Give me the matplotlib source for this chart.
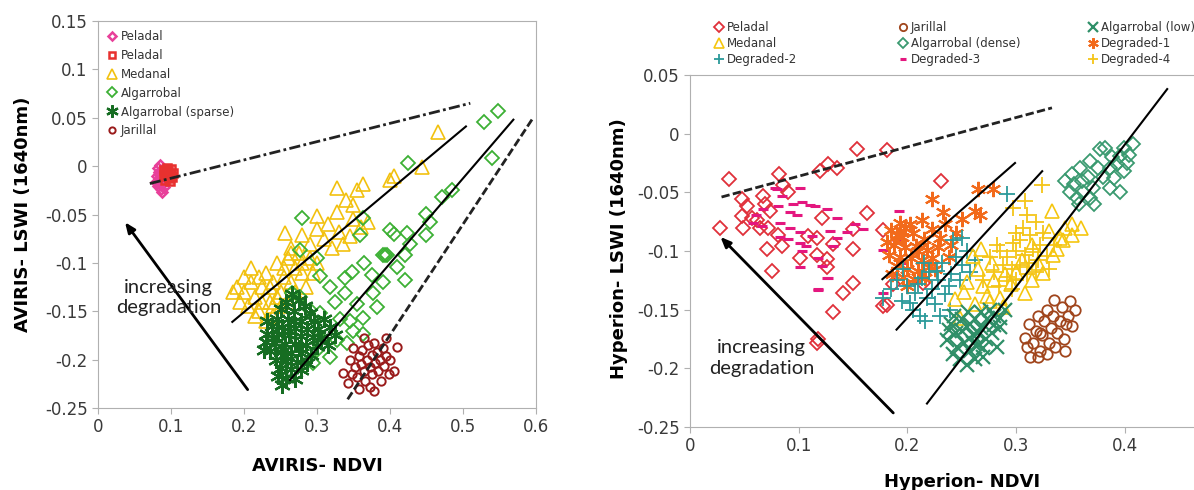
import matplotlib
matplotlib.use('Agg')
import matplotlib.pyplot as plt
import numpy as np
from matplotlib.ticker import FuncFormatter

# ---- AVIRIS panel data (NDVI, LSWI) ----
av_peladal_a = np.array([
    (0.082, -0.002), (0.084, -0.006), (0.081, -0.010), (0.083, -0.014), (0.085, -0.018),
    (0.082, -0.021), (0.086, -0.024), (0.088, -0.027), (0.084, -0.008), (0.087, -0.012),
    (0.089, -0.016), (0.086, -0.020), (0.090, -0.022), (0.085, 0.001), (0.080, -0.016),
    (0.088, -0.004)])
av_peladal_b = np.array([
    (0.090, -0.004), (0.093, -0.006), (0.096, -0.005), (0.099, -0.008), (0.094, -0.010),
    (0.097, -0.012), (0.101, -0.011), (0.092, -0.014), (0.095, -0.002), (0.100, -0.003),
    (0.098, -0.015), (0.091, -0.009), (0.103, -0.007)])
av_medanal = np.array([
    (0.466, 0.035), (0.444, -0.001), (0.400, -0.014), (0.405, -0.010), (0.363, -0.018),
    (0.327, -0.023), (0.355, -0.025), (0.340, -0.035), (0.350, -0.040), (0.300, -0.052),
    (0.327, -0.047), (0.256, -0.069), (0.280, -0.071), (0.300, -0.065), (0.315, -0.060),
    (0.330, -0.068), (0.345, -0.072), (0.360, -0.063), (0.370, -0.058), (0.310, -0.075),
    (0.290, -0.080), (0.335, -0.080), (0.320, -0.085), (0.265, -0.085), (0.350, -0.055),
    (0.190, -0.125), (0.200, -0.130), (0.210, -0.120), (0.195, -0.140), (0.205, -0.145),
    (0.215, -0.135), (0.220, -0.150), (0.225, -0.125), (0.230, -0.110), (0.235, -0.140),
    (0.240, -0.120), (0.245, -0.100), (0.250, -0.130), (0.255, -0.115), (0.260, -0.095),
    (0.265, -0.120), (0.270, -0.105), (0.275, -0.090), (0.280, -0.110), (0.285, -0.125),
    (0.290, -0.095), (0.295, -0.110), (0.300, -0.100), (0.240, -0.155), (0.230, -0.160),
    (0.250, -0.145), (0.260, -0.140), (0.210, -0.105), (0.220, -0.115), (0.185, -0.130),
    (0.200, -0.115), (0.245, -0.135), (0.255, -0.105), (0.270, -0.130), (0.265, -0.090),
    (0.280, -0.100), (0.235, -0.125), (0.225, -0.140), (0.215, -0.155), (0.240, -0.145)])
av_algarrobal = np.array([
    (0.548, 0.057), (0.529, 0.046), (0.540, 0.008), (0.485, -0.025), (0.471, -0.032),
    (0.450, -0.049), (0.455, -0.058), (0.450, -0.071), (0.423, -0.069), (0.427, -0.080),
    (0.400, -0.066), (0.420, -0.092), (0.420, -0.118), (0.393, -0.092), (0.410, -0.104),
    (0.424, 0.003), (0.280, -0.054), (0.363, -0.054), (0.359, -0.071), (0.405, -0.070),
    (0.277, -0.087), (0.390, -0.092), (0.300, -0.095), (0.304, -0.114), (0.338, -0.116),
    (0.348, -0.109), (0.375, -0.113), (0.390, -0.120), (0.396, -0.092), (0.338, -0.131),
    (0.355, -0.142), (0.377, -0.131), (0.382, -0.146), (0.363, -0.157), (0.350, -0.170),
    (0.341, -0.183), (0.318, -0.197), (0.300, -0.190), (0.295, -0.204), (0.304, -0.152),
    (0.290, -0.149), (0.313, -0.170), (0.327, -0.180), (0.363, -0.173), (0.304, -0.178),
    (0.266, -0.131), (0.277, -0.135), (0.325, -0.140), (0.332, -0.158), (0.345, -0.160),
    (0.318, -0.125), (0.365, -0.100)])
av_sparse = np.array([
    (0.266, -0.132), (0.275, -0.138), (0.258, -0.140), (0.283, -0.145), (0.250, -0.148),
    (0.268, -0.150), (0.290, -0.152), (0.245, -0.158), (0.260, -0.158), (0.278, -0.160),
    (0.296, -0.160), (0.238, -0.165), (0.252, -0.166), (0.270, -0.167), (0.286, -0.168),
    (0.302, -0.168), (0.232, -0.174), (0.246, -0.174), (0.262, -0.175), (0.278, -0.176),
    (0.294, -0.177), (0.230, -0.182), (0.242, -0.183), (0.256, -0.184), (0.270, -0.184),
    (0.285, -0.185), (0.300, -0.186), (0.236, -0.191), (0.250, -0.192), (0.264, -0.193),
    (0.278, -0.193), (0.292, -0.195), (0.244, -0.200), (0.258, -0.201), (0.272, -0.202),
    (0.286, -0.203), (0.250, -0.209), (0.264, -0.210), (0.278, -0.211), (0.246, -0.217),
    (0.258, -0.219), (0.270, -0.220), (0.252, -0.226), (0.263, -0.170), (0.255, -0.195),
    (0.275, -0.188), (0.240, -0.178), (0.268, -0.160), (0.310, -0.158), (0.318, -0.166),
    (0.325, -0.175), (0.315, -0.185), (0.305, -0.178), (0.232, -0.160), (0.228, -0.190)])
av_jarillal = np.array([
    (0.336, -0.214), (0.345, -0.200), (0.350, -0.188), (0.352, -0.208), (0.355, -0.218),
    (0.358, -0.196), (0.360, -0.205), (0.362, -0.190), (0.364, -0.212), (0.366, -0.222),
    (0.368, -0.200), (0.370, -0.185), (0.372, -0.208), (0.373, -0.228), (0.375, -0.195),
    (0.376, -0.215), (0.378, -0.183), (0.380, -0.203), (0.382, -0.192), (0.384, -0.212),
    (0.386, -0.200), (0.388, -0.222), (0.390, -0.188), (0.392, -0.207), (0.395, -0.196),
    (0.398, -0.215), (0.400, -0.200), (0.409, -0.187), (0.342, -0.224), (0.358, -0.230),
    (0.378, -0.232), (0.394, -0.178), (0.405, -0.212), (0.365, -0.178), (0.348, -0.215)])

# trend lines and arrow: ((x0, x1), (y0, y1))
av_line_dashdot = ((0.071, 0.510), (-0.018, 0.065))
av_line_1 = ((0.184, 0.504), (-0.161, 0.041))
av_line_2 = ((0.263, 0.569), (-0.221, 0.048))
av_line_dashed = ((0.342, 0.597), (-0.241, 0.051))
av_arrow = ((0.205, -0.231), (0.037, -0.058))

# ---- Hyperion panel data (NDVI, LSWI) ----
hy_peladal = np.array([
    (0.036, -0.039), (0.082, -0.034), (0.048, -0.056), (0.052, -0.062), (0.067, -0.053),
    (0.069, -0.060), (0.074, -0.066), (0.086, -0.044), (0.090, -0.050), (0.120, -0.032),
    (0.127, -0.026), (0.135, -0.029), (0.048, -0.070), (0.057, -0.072), (0.062, -0.074),
    (0.064, -0.080), (0.049, -0.080), (0.072, -0.080), (0.028, -0.080), (0.081, -0.086),
    (0.085, -0.096), (0.071, -0.098), (0.075, -0.117), (0.101, -0.106), (0.117, -0.103),
    (0.109, -0.087), (0.117, -0.089), (0.121, -0.072), (0.126, -0.107), (0.132, -0.094),
    (0.126, -0.114), (0.150, -0.081), (0.150, -0.098), (0.150, -0.127), (0.141, -0.136),
    (0.132, -0.152), (0.163, -0.068), (0.178, -0.082), (0.187, -0.128), (0.181, -0.146),
    (0.117, -0.178), (0.181, -0.014), (0.154, -0.013), (0.231, -0.040), (0.214, -0.127),
    (0.178, -0.147), (0.118, -0.175)])
hy_degraded3 = np.array([
    (0.080, -0.047), (0.101, -0.046), (0.081, -0.062), (0.095, -0.060), (0.103, -0.058),
    (0.110, -0.061), (0.115, -0.062), (0.092, -0.067), (0.098, -0.069), (0.126, -0.064),
    (0.135, -0.072), (0.144, -0.084), (0.152, -0.077), (0.159, -0.081), (0.083, -0.076),
    (0.092, -0.080), (0.101, -0.084), (0.083, -0.088), (0.090, -0.090), (0.101, -0.093),
    (0.107, -0.096), (0.112, -0.087), (0.129, -0.083), (0.135, -0.089), (0.103, -0.100),
    (0.101, -0.114), (0.118, -0.106), (0.121, -0.113), (0.126, -0.123), (0.118, -0.133),
    (0.132, -0.096), (0.178, -0.099), (0.178, -0.136), (0.192, -0.066), (0.190, -0.091),
    (0.061, -0.069), (0.058, -0.076), (0.066, -0.079), (0.078, -0.046), (0.085, -0.053),
    (0.067, -0.064), (0.127, -0.123), (0.118, -0.132), (0.195, -0.110), (0.188, -0.120)])
hy_degraded1 = np.array([
    (0.223, -0.056), (0.265, -0.047), (0.279, -0.047), (0.233, -0.067), (0.262, -0.066),
    (0.267, -0.069), (0.250, -0.073), (0.193, -0.076), (0.202, -0.077), (0.213, -0.074),
    (0.223, -0.081), (0.235, -0.077), (0.190, -0.086), (0.230, -0.089), (0.185, -0.082),
    (0.195, -0.088), (0.205, -0.085), (0.215, -0.090), (0.188, -0.095), (0.198, -0.097),
    (0.208, -0.096), (0.218, -0.099), (0.228, -0.097), (0.183, -0.103), (0.193, -0.105),
    (0.203, -0.106), (0.213, -0.108), (0.223, -0.106), (0.190, -0.113), (0.200, -0.115),
    (0.210, -0.117), (0.220, -0.114), (0.196, -0.122), (0.206, -0.124), (0.186, -0.120),
    (0.216, -0.123), (0.200, -0.130), (0.240, -0.095), (0.245, -0.085), (0.181, -0.092),
    (0.225, -0.115), (0.238, -0.105), (0.210, -0.100), (0.198, -0.080)])
hy_degraded2 = np.array([
    (0.195, -0.143), (0.216, -0.160), (0.239, -0.150), (0.213, -0.123), (0.227, -0.117),
    (0.235, -0.137), (0.223, -0.132), (0.207, -0.136), (0.202, -0.144), (0.292, -0.051),
    (0.250, -0.089), (0.242, -0.091), (0.185, -0.132), (0.190, -0.125), (0.200, -0.130),
    (0.210, -0.128), (0.218, -0.140), (0.228, -0.125), (0.232, -0.110), (0.240, -0.120),
    (0.245, -0.105), (0.250, -0.112), (0.255, -0.100), (0.220, -0.118), (0.205, -0.150),
    (0.212, -0.155), (0.225, -0.145), (0.238, -0.130), (0.248, -0.125), (0.258, -0.118),
    (0.178, -0.140), (0.196, -0.115), (0.230, -0.155), (0.215, -0.110), (0.262, -0.108)])
hy_degraded4 = np.array([
    (0.324, -0.044), (0.308, -0.057), (0.310, -0.069), (0.297, -0.063), (0.306, -0.080),
    (0.313, -0.086), (0.304, -0.091), (0.297, -0.093), (0.285, -0.100), (0.292, -0.105),
    (0.300, -0.100), (0.308, -0.103), (0.316, -0.098), (0.322, -0.095), (0.288, -0.112),
    (0.296, -0.115), (0.304, -0.112), (0.312, -0.110), (0.320, -0.108), (0.328, -0.104),
    (0.292, -0.122), (0.300, -0.125), (0.310, -0.120), (0.318, -0.118), (0.280, -0.118),
    (0.276, -0.105), (0.284, -0.130), (0.296, -0.132), (0.325, -0.085), (0.318, -0.075),
    (0.330, -0.115), (0.270, -0.125), (0.282, -0.095), (0.300, -0.085), (0.335, -0.095)])
hy_medanal = np.array([
    (0.248, -0.157), (0.244, -0.141), (0.273, -0.138), (0.276, -0.143), (0.308, -0.136),
    (0.325, -0.119), (0.334, -0.103), (0.343, -0.091), (0.260, -0.104), (0.255, -0.126),
    (0.333, -0.066), (0.351, -0.077), (0.351, -0.086), (0.340, -0.089), (0.330, -0.083),
    (0.265, -0.115), (0.270, -0.130), (0.280, -0.125), (0.285, -0.140), (0.290, -0.120),
    (0.295, -0.128), (0.300, -0.118), (0.315, -0.125), (0.320, -0.110), (0.338, -0.098),
    (0.345, -0.080), (0.262, -0.145), (0.252, -0.135), (0.360, -0.080), (0.315, -0.095),
    (0.305, -0.108), (0.278, -0.110), (0.268, -0.098), (0.288, -0.148)])
hy_algarrobal_low = np.array([
    (0.240, -0.162), (0.245, -0.170), (0.250, -0.158), (0.252, -0.178), (0.255, -0.165),
    (0.258, -0.185), (0.260, -0.172), (0.262, -0.158), (0.265, -0.180), (0.268, -0.166),
    (0.270, -0.190), (0.272, -0.175), (0.275, -0.160), (0.278, -0.170), (0.280, -0.155),
    (0.282, -0.182), (0.285, -0.157), (0.276, -0.150), (0.242, -0.188), (0.248, -0.192),
    (0.255, -0.197), (0.236, -0.176), (0.246, -0.182), (0.262, -0.192), (0.268, -0.152),
    (0.256, -0.152), (0.285, -0.165), (0.290, -0.150), (0.250, -0.168), (0.260, -0.178),
    (0.270, -0.183), (0.280, -0.163), (0.265, -0.170), (0.238, -0.167), (0.243, -0.155),
    (0.273, -0.158), (0.258, -0.162)])
hy_algarrobal_dense = np.array([
    (0.382, -0.012), (0.408, -0.009), (0.402, -0.025), (0.396, -0.019), (0.388, -0.020),
    (0.368, -0.023), (0.359, -0.029), (0.351, -0.034), (0.353, -0.043), (0.350, -0.050),
    (0.362, -0.050), (0.371, -0.046), (0.380, -0.037), (0.386, -0.046), (0.396, -0.050),
    (0.375, -0.029), (0.386, -0.029), (0.399, -0.032), (0.366, -0.037), (0.361, -0.040),
    (0.356, -0.055), (0.368, -0.055), (0.377, -0.013), (0.399, -0.012), (0.393, -0.026),
    (0.345, -0.040), (0.358, -0.060), (0.372, -0.060), (0.390, -0.038), (0.404, -0.018)])
hy_jarillal = np.array([
    (0.308, -0.174), (0.351, -0.164), (0.350, -0.143), (0.313, -0.190), (0.312, -0.162),
    (0.316, -0.178), (0.318, -0.168), (0.320, -0.155), (0.322, -0.185), (0.324, -0.172),
    (0.326, -0.160), (0.328, -0.150), (0.330, -0.178), (0.332, -0.166), (0.334, -0.155),
    (0.336, -0.182), (0.338, -0.170), (0.340, -0.160), (0.342, -0.148), (0.344, -0.175),
    (0.346, -0.162), (0.348, -0.155), (0.320, -0.190), (0.328, -0.188), (0.354, -0.150),
    (0.310, -0.182), (0.335, -0.142), (0.345, -0.185), (0.322, -0.170)])

hy_line_dashed = ((0.029, 0.333), (-0.054, 0.022))
hy_line_1 = ((0.177, 0.299), (-0.124, -0.025))
hy_line_2 = ((0.190, 0.324), (-0.167, -0.032))
hy_line_3 = ((0.218, 0.439), (-0.230, 0.038))
hy_arrow = ((0.187, -0.238), (0.028, -0.088))

STAR = (6, 2, 0)  # six-armed asterisk


def scatter(ax, pts, marker, color, ms, mew=1.3, label=None):
    return ax.plot(pts[:, 0], pts[:, 1], ls='none', marker=marker, ms=ms,
                   mfc='none', mec=color, mew=mew, label=label)[0]


def fmt(v, pos):
    v = round(v, 2)
    return '0' if v == 0 else f'{v:g}'


def style_axes(ax):
    for s in ax.spines.values():
        s.set_color('#b0b0b0')
    ax.tick_params(colors='#b0b0b0', labelcolor='#3a3a3a', labelsize=12,
                   length=4, width=0.8)
    ax.xaxis.set_major_formatter(FuncFormatter(fmt))
    ax.yaxis.set_major_formatter(FuncFormatter(fmt))


def arrow_text(ax, arrow, xy_text):
    ax.annotate('', xy=arrow[1], xytext=arrow[0],
                arrowprops=dict(arrowstyle='-|>,head_length=0.6,head_width=0.25',
                                lw=2, color='black', shrinkA=0, shrinkB=0))
    ax.text(*xy_text, 'increasing\ndegradation', ha='center', va='center',
            fontsize=14.5, family='Lato', color='#222222', linespacing=1.25)


fig = plt.figure(figsize=(11.94, 4.9), dpi=100)

# AVIRIS
ax1 = fig.add_axes([98 / 1194, 82 / 490, 438 / 1194, 387 / 490])
ax1.set_xlim(0, 0.6)
ax1.set_ylim(-0.25, 0.15)
ax1.set_xticks(np.arange(0, 0.61, 0.1))
ax1.set_yticks(np.arange(-0.25, 0.151, 0.05))
style_axes(ax1)

h = []
h.append(scatter(ax1, av_peladal_a, 'D', '#e8409a', 5.5, 1.8, 'Peladal'))
h.append(scatter(ax1, av_peladal_b, 's', '#e8312f', 5.5, 1.8, 'Peladal'))
h.append(scatter(ax1, av_medanal, '^', '#f2c10f', 10, 1.2, 'Medanal'))
h.append(scatter(ax1, av_algarrobal, 'D', '#3cb034', 7, 1.3, 'Algarrobal'))
h.append(scatter(ax1, av_sparse, STAR, '#166d22', 12, 1.6, 'Algarrobal (sparse)'))
h.append(scatter(ax1, av_jarillal, 'o', '#9a1b1b', 6, 1.4, 'Jarillal'))

ax1.plot(*av_line_dashdot, color='#222222', lw=2, ls=(0, (4, 1.2, 1, 1.2)))
ax1.plot(*av_line_1, color='black', lw=1.5)
ax1.plot(*av_line_2, color='black', lw=1.5)
ax1.plot(*av_line_dashed, color='#222222', lw=2, ls=(0, (3, 1.2)))
arrow_text(ax1, av_arrow, (0.097, -0.136))

ax1.legend(handles=h, loc='upper left', bbox_to_anchor=(0.022, 0.977),
           frameon=False, fontsize=8.5, markerscale=0.75, handlelength=0.8,
           handletextpad=0.3, labelspacing=0.5, borderpad=0, borderaxespad=0,
           labelcolor='#333333')

ax1.set_xlabel('AVIRIS- NDVI', fontsize=13, fontweight='bold')
ax1.set_ylabel('AVIRIS- LSWI (1640nm)', fontsize=13, fontweight='bold')
ax1.xaxis.set_label_coords(0.5, -0.127)
ax1.yaxis.set_label_coords(-0.15, 0.5)

# Hyperion: the axis runs on past the right edge of the figure
ax2 = fig.add_axes([690 / 1194, 63 / 490, 543.5 / 1194, 352 / 490])
ax2.set_xlim(0, 0.5)
ax2.set_ylim(-0.25, 0.05)
ax2.set_xticks(np.arange(0, 0.41, 0.1))
ax2.set_yticks(np.arange(-0.25, 0.051, 0.05))
style_axes(ax2)

p_pel = scatter(ax2, hy_peladal, 'D', '#e0303a', 7, 1.3, 'Peladal')
p_d3 = scatter(ax2, hy_degraded3, '_', '#e4177f', 7, 2.2, 'Degraded-3')
p_d1 = scatter(ax2, hy_degraded1, STAR, '#f26a1b', 11, 1.5, 'Degraded-1')
p_d2 = scatter(ax2, hy_degraded2, '+', '#2b9a9a', 11, 1.3, 'Degraded-2')
p_med = scatter(ax2, hy_medanal, '^', '#f5c60f', 10, 1.2, 'Medanal')
p_d4 = scatter(ax2, hy_degraded4, '+', '#f5c518', 11, 1.3, 'Degraded-4')
p_low = scatter(ax2, hy_algarrobal_low, 'x', '#2f8f68', 10, 1.6, 'Algarrobal (low)')
p_den = scatter(ax2, hy_algarrobal_dense, 'D', '#3a9a70', 7.5, 1.3, 'Algarrobal (dense)')
p_jar = scatter(ax2, hy_jarillal, 'o', '#a0451c', 7.5, 1.3, 'Jarillal')

ax2.plot(*hy_line_dashed, color='#222222', lw=2, ls=(0, (3, 1.2)))
for ln in (hy_line_1, hy_line_2, hy_line_3):
    ax2.plot(*ln, color='black', lw=1.5)
arrow_text(ax2, hy_arrow, (0.066, -0.191))

columns = [([p_pel, p_med, p_d2], 714), ([p_jar, p_den, p_d3], 898), ([p_low, p_d1, p_d4], 1088)]
for handles, xpix in columns:
    fig.legend(handles=handles, loc='upper left',
               bbox_to_anchor=(xpix / 1194, 1 - 21 / 490), frameon=False,
               fontsize=8.5, markerscale=0.7, handlelength=0.8,
               handletextpad=0.3, labelspacing=0.25, borderpad=0,
               borderaxespad=0, labelcolor='#333333')

ax2.set_xlabel('Hyperion- NDVI', fontsize=13, fontweight='bold')
ax2.set_ylabel('Hyperion- LSWI (1640nm)', fontsize=13, fontweight='bold')
ax2.xaxis.set_label_coords(0.5, -0.131)
ax2.yaxis.set_label_coords(-0.114, 0.506)

fig.savefig('out.png', dpi=100)
